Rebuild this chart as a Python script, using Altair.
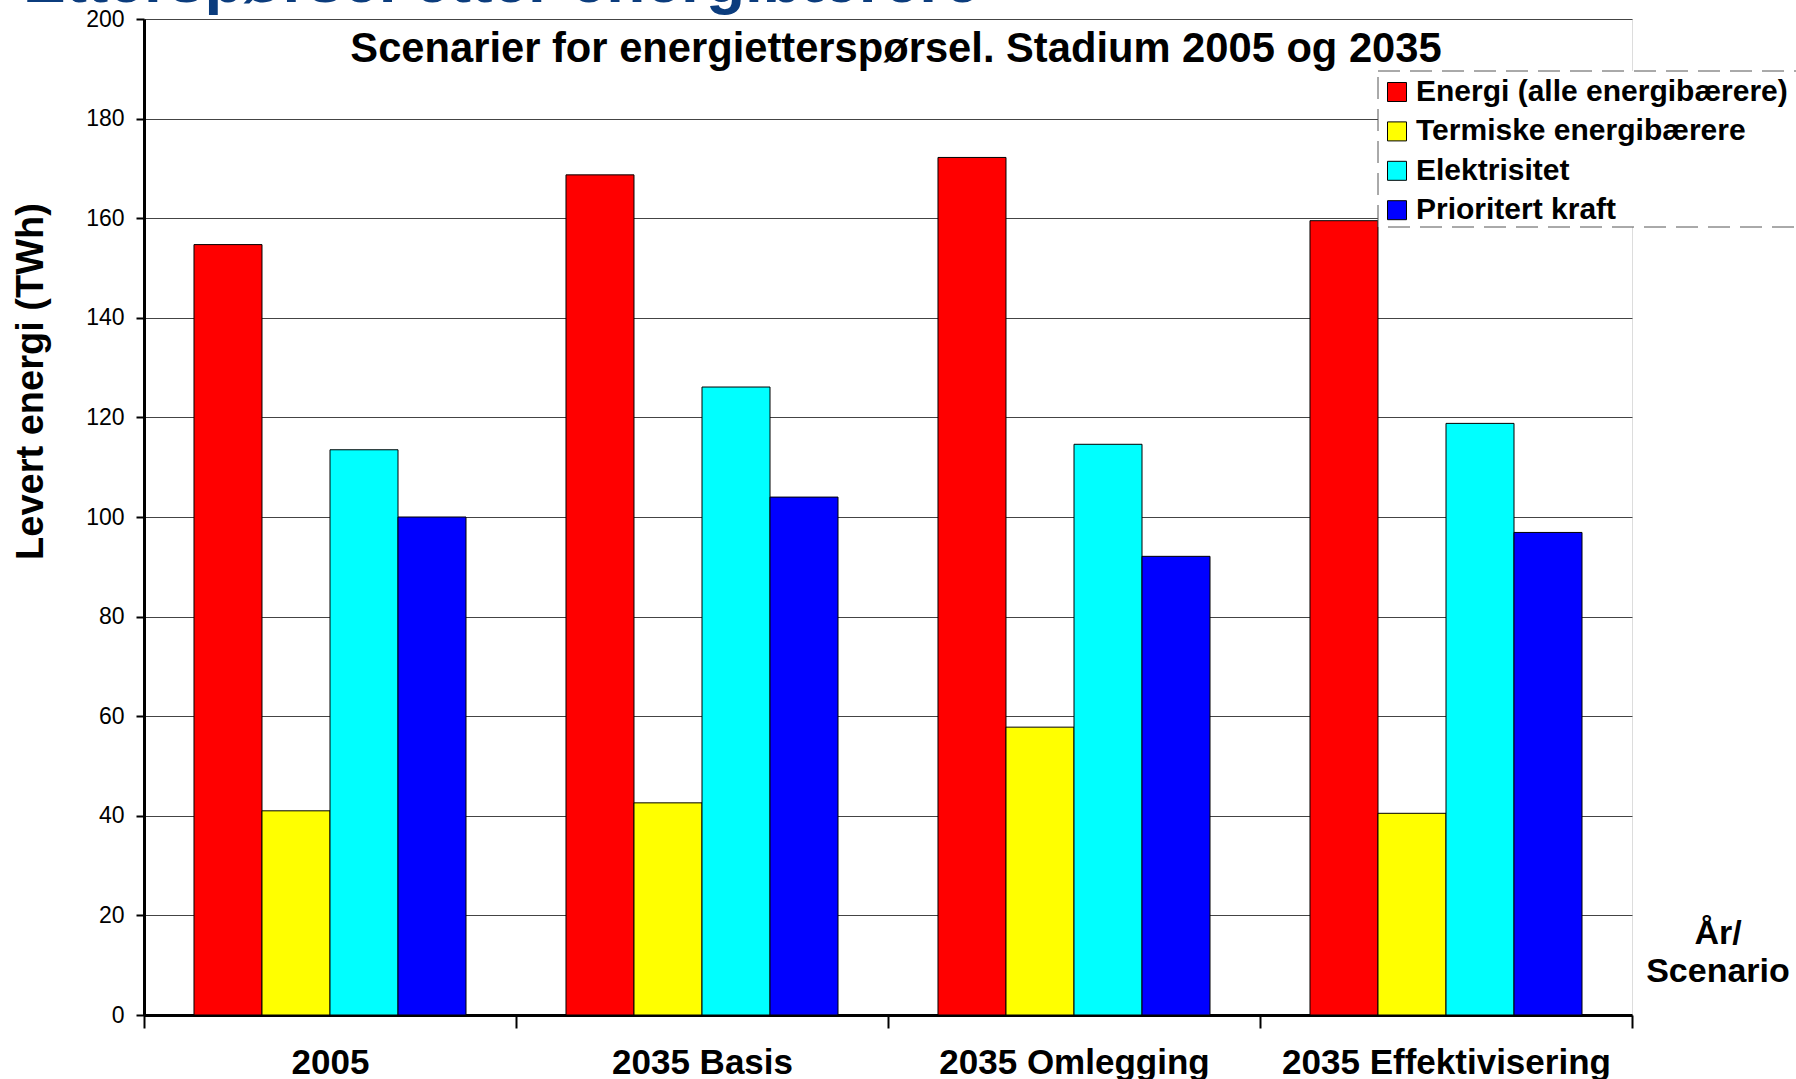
import altair as alt
import pandas as pd

categories = ["2005", "2035 Basis", "2035 Omlegging", "2035 Effektivisering"]
series = ["Energi (alle energibærere)", "Termiske energibærere", "Elektrisitet", "Prioritert kraft"]
colors = ["#FF0000", "#FFFF00", "#00FFFF", "#0000FF"]
energi = [154.7, 168.7, 172.2, 159.5]
termiske = [41.0, 42.6, 57.8, 40.5]
elektrisitet = [113.5, 126.1, 114.6, 118.8]
prioritert = [100.0, 104.0, 92.1, 96.9]
y_ticks = list(range(0, 201, 20))

heading = "Etterspørsel etter energibærere"
chart_title = "Scenarier for energietterspørsel. Stadium 2005 og 2035"
x_title = "År/\nScenario"
y_title = "Levert energi (TWh)"

rows = []
for s, vals in zip(series, [energi, termiske, elektrisitet, prioritert]):
    for c, v in zip(categories, vals):
        rows.append({"Scenario": c, "Serie": s, "TWh": v})
df = pd.DataFrame(rows)

FONT = "Liberation Sans"

bars = alt.Chart(df).mark_bar(stroke="black", strokeWidth=1).encode(
    x=alt.X(
        "Scenario:N", sort=categories,
        scale=alt.Scale(paddingInner=0, paddingOuter=0),
        axis=alt.Axis(
            title=None, labelAngle=0, labelFontSize=35, labelFontWeight="bold",
            labelColor="black", labelFont=FONT, labelLimit=600,
            domainColor="black", domainWidth=3,
            tickBand="extent", tickSize=13, tickWidth=2, tickColor="black",
            labelPadding=17, grid=False,
        ),
    ),
    xOffset=alt.XOffset("Serie:N", sort=series,
                        scale=alt.Scale(paddingOuter=0.735, paddingInner=0)),
    y=alt.Y(
        "TWh:Q",
        scale=alt.Scale(domain=[0, 200], nice=False),
        axis=alt.Axis(
            values=y_ticks, title=y_title, titleFont=FONT, titleFontSize=38,
            titleFontWeight="bold", titleColor="black", titleAngle=270,
            titleX=-113, titleY=362, titleAlign="center", titleBaseline="middle",
            labelFontSize=23, labelColor="black", labelFont=FONT, labelPadding=12,
            tickSize=8, tickWidth=2, tickColor="black",
            domainColor="black", domainWidth=3,
            grid=True, gridColor="#444444", gridWidth=1,
        ),
    ),
    color=alt.Color(
        "Serie:N", sort=series,
        scale=alt.Scale(domain=series, range=colors),
        legend=alt.Legend(
            title=None, orient="none", legendX=1234, legendY=54,
            labelFont=FONT, labelFontSize=30, labelFontWeight="bold", labelColor="black",
            labelLimit=800, labelOffset=4, symbolType="square", symbolSize=361,
            symbolStrokeColor="black", symbolStrokeWidth=1, rowPadding=9.4,
            padding=4,
        ),
    ),
)

# dashed legend frame (extends past the right edge, as in the original)
legend_box = alt.Chart(pd.DataFrame({"k": ["box"]})).mark_rect(
    fill="white", stroke="#555555", strokeWidth=1, strokeDash=[22, 10],
).encode(
    x=alt.value(1234), x2=alt.value(1700),
    y=alt.value(52), y2=alt.value(208),
)

heading_layer = alt.Chart(pd.DataFrame({"t": [heading]})).mark_text(
    font=FONT, fontSize=64, fontWeight="bold", color="#0B3C7D",
    align="left", baseline="alphabetic",
).encode(text="t:N", x=alt.value(-121), y=alt.value(-17))

title_layer = alt.Chart(pd.DataFrame({"t": [chart_title]})).mark_text(
    font=FONT, fontSize=41.7, fontWeight="bold", color="black",
    align="center", baseline="middle",
).encode(text="t:N", x=alt.value(752), y=alt.value(30))

xtitle_layer = alt.Chart(pd.DataFrame({"t": [x_title]})).mark_text(
    font=FONT, fontSize=34, fontWeight="bold", color="black",
    align="center", baseline="middle", lineBreak="\n", lineHeight=38,
).encode(text="t:N", x=alt.value(1574), y=alt.value(915))

chart = alt.layer(bars, legend_box, title_layer, heading_layer, xtitle_layer).properties(
    width=1488, height=996,
    autosize=alt.AutoSizeParams(type="none"),
    padding={"left": 144, "top": 19, "right": 164, "bottom": 64},
    background="white",
).configure_view(stroke="black", strokeWidth=1).configure(font=FONT)

chart.save("out.html", embed_options={"renderer": "svg", "actions": False})
